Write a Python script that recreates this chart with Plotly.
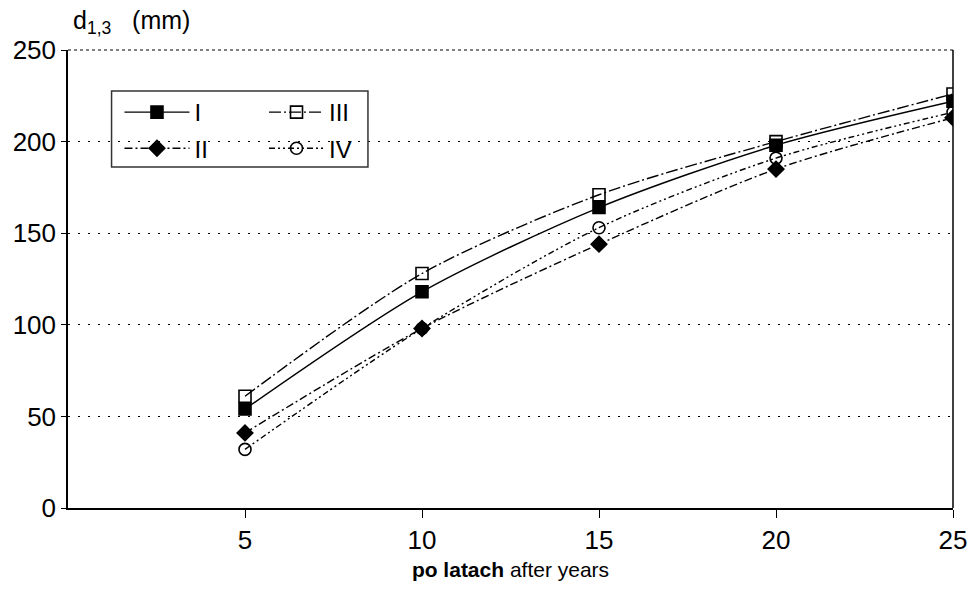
import plotly.graph_objects as go

years = [5, 10, 15, 20, 25]
series_names = ["I", "II", "III", "IV"]
d_I = [54, 118, 164, 198, 222]
d_II = [41, 98, 144, 185, 213]
d_III = [61, 128, 171, 200, 226]
d_IV = [32, 98, 153, 191, 216]
y_ticks = [0, 50, 100, 150, 200, 250]
x_ticks = [5, 10, 15, 20, 25]

styles = {
    "I": dict(symbol="square", dash="solid", legend="legend"),
    "II": dict(symbol="diamond", dash="8px,3px,2px,3px", legend="legend"),
    "III": dict(symbol="square-open", dash="12px,3px,2px,3px", legend="legend2"),
    "IV": dict(symbol="circle-open", dash="6px,3px,2px,3px,2px,3px", legend="legend2"),
}
values = {"I": d_I, "II": d_II, "III": d_III, "IV": d_IV}

fig = go.Figure()
for name in series_names:
    st = styles[name]
    fig.add_trace(go.Scatter(
        x=years, y=values[name], name=name, mode="lines+markers",
        legendgroup=name,
        line=dict(color="black", width=1.4, dash=st["dash"], shape="spline", smoothing=0.8),
        marker=dict(symbol=st["symbol"], size=12,
                    color="black", line=dict(color="black", width=1.6)),
        legend=st["legend"],
    ))

L, R, T, B = 68, 17, 50, 83
pw, ph = 979 - L - R, 591 - T - B

def px_x(x):
    return (x - L) / pw

def px_y(y):
    return (591 - B - y) / ph

fig.update_layout(
    width=979, height=591,
    margin=dict(l=L, r=R, t=T, b=B),
    paper_bgcolor="white", plot_bgcolor="white",
    font=dict(family="Liberation Sans, Arial, sans-serif", color="black"),
    showlegend=True,
    legend=dict(x=px_x(120), y=px_y(90), xanchor="left", yanchor="top",
                bgcolor="rgba(0,0,0,0)", font=dict(size=24), itemwidth=65,
                tracegroupgap=2),
    legend2=dict(x=px_x(266), y=px_y(90), xanchor="left", yanchor="top",
                 bgcolor="rgba(0,0,0,0)", font=dict(size=24), itemwidth=55,
                 tracegroupgap=2),
    shapes=[dict(type="rect", xref="paper", yref="paper",
                 x0=px_x(112), x1=px_x(371), y0=px_y(167), y1=px_y(91),
                 line=dict(color="#333", width=1.5), fillcolor="rgba(0,0,0,0)")],
    xaxis=dict(range=[0, 25], tickvals=x_ticks, ticktext=[str(v) for v in x_ticks],
               showgrid=False, zeroline=False, showline=True, linecolor="black",
               linewidth=1.5, ticks="outside", ticklen=8, tickcolor="black",
               tickfont=dict(size=26),
               mirror=False,
               title=dict(text="<b>po latach</b> after years",
                          font=dict(size=21),
                          standoff=8)),
    yaxis=dict(range=[0, 250], tickvals=y_ticks, ticktext=[str(v) for v in y_ticks],
               showgrid=True, gridcolor="black", gridwidth=1, griddash="2px,8px",
               zeroline=False, showline=True, linecolor="black", linewidth=1.5,
               ticks="outside", ticklen=5, tickcolor="black",
               tickfont=dict(size=26)),
    annotations=[dict(text="d<sub>1,3</sub>   (mm)", xref="paper", yref="paper",
                      x=px_x(71), y=px_y(40), xanchor="left", yanchor="bottom",
                      showarrow=False, font=dict(size=25))],
)
fig.add_shape(type="line", xref="paper", yref="paper", x0=0, x1=1, y0=1, y1=1,
              line=dict(color="black", width=1, dash="dot"))
fig.add_shape(type="line", xref="paper", yref="paper", x0=1, x1=1, y0=0, y1=1,
              line=dict(color="black", width=1.5))

fig.write_html("out.html")
